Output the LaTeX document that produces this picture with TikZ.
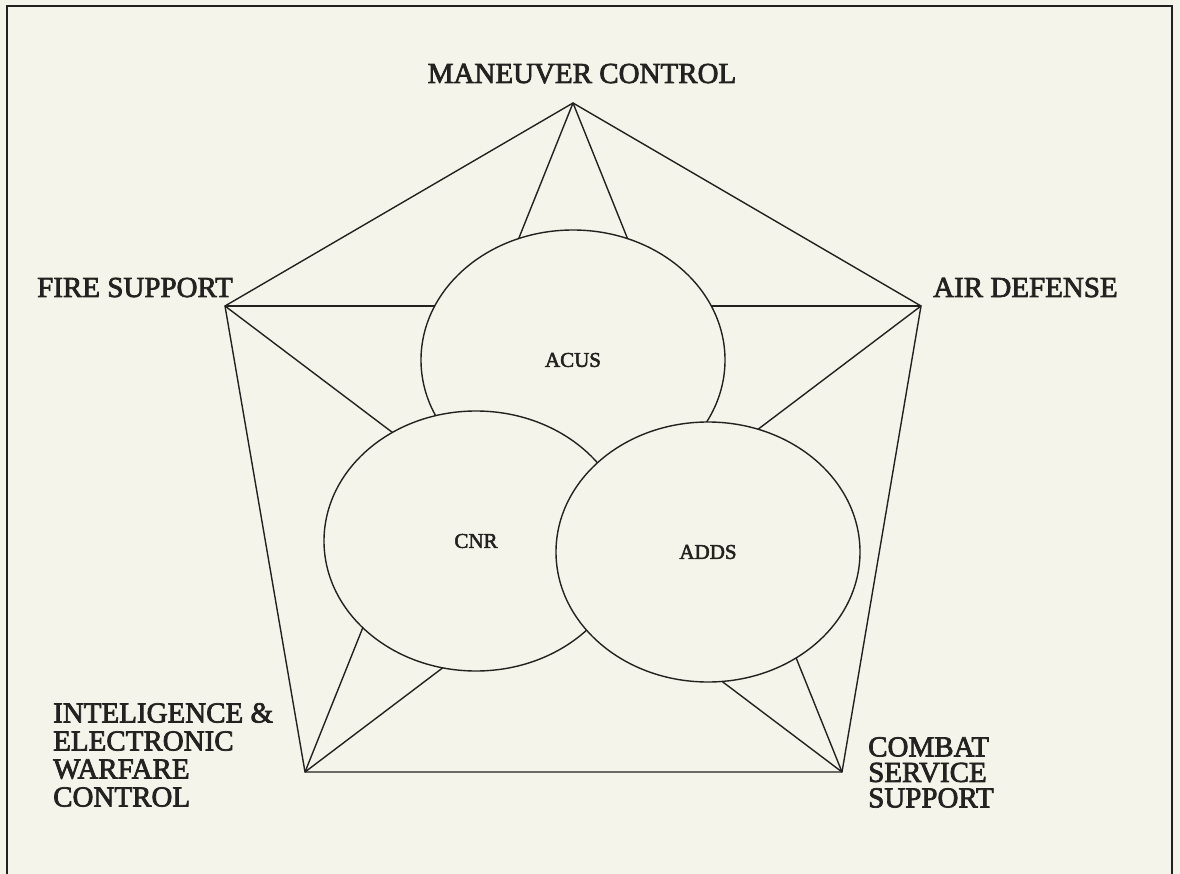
\documentclass[tikz,border=0pt]{standalone}
\usepackage{fontspec}
\setmainfont{Liberation Serif}
\newfontfamily\heavyserif[FakeBold=2.5]{Liberation Serif}
\usetikzlibrary{shapes.geometric}
\definecolor{paper}{RGB}{244,244,234}
\definecolor{ink}{RGB}{34,34,32}
\begin{document}
\begin{tikzpicture}[x=1pt,y=-1pt,
  edge/.style={draw=ink, line width=1.4pt},
  ring/.style={ellipse, draw=ink, line width=1.4pt, fill=paper,
    minimum width=304pt, minimum height=260pt, inner sep=0pt,
    font=\heavyserif\fontsize{21}{24}\selectfont, text=ink},
  corner/.style={inner sep=0pt, text=ink, align=left,
    font=\heavyserif\fontsize{29}{28}\selectfont}]
% page and frame
\fill[paper] (0,0) rectangle (1180,874);
\useasboundingbox (0,0) rectangle (1180,874);
\draw[ink, line width=2.2pt] (7,874) -- (7,6) -- (1172,6) -- (1172,874);

% the five functional areas
\coordinate (mc)  at (573,103);
\coordinate (fs)  at (225,306);
\coordinate (ad)  at (921,306);
\coordinate (iew) at (305,772);
\coordinate (css) at (842,772);

% every area is linked with every other one
\draw[edge] (mc) -- (fs) -- (iew) -- (css) -- (ad) -- cycle;
\draw[edge] (mc) -- (iew);
\draw[edge] (mc) -- (css);
\draw[edge] (fs) -- (ad);
\draw[edge] (fs) -- (css);
\draw[edge] (ad) -- (iew);

% communication systems
\node[ring] (acus) at (573,360) {ACUS};
\node[ring] (cnr)  at (476,541) {CNR};
\node[ring] (adds) at (708,552) {ADDS};

% area names
\node[corner, anchor=base] (mclabel) at (582,83) {MANEUVER CONTROL};
\node[corner, anchor=base west] (fslabel) at (37,297) {FIRE SUPPORT};
\node[corner, anchor=base west] (adlabel) at (933,297) {AIR DEFENSE};
\node[corner, anchor=north west, font=\heavyserif\fontsize{29}{28}\selectfont]
  (iewlabel) at (53,703) {INTELIGENCE \&\\ELECTRONIC\\WARFARE\\CONTROL};
\node[corner, anchor=north west, font=\heavyserif\fontsize{29}{25.5}\selectfont]
  (csslabel) at (868,737) {COMBAT\\SERVICE\\SUPPORT};
\end{tikzpicture}
\end{document}
